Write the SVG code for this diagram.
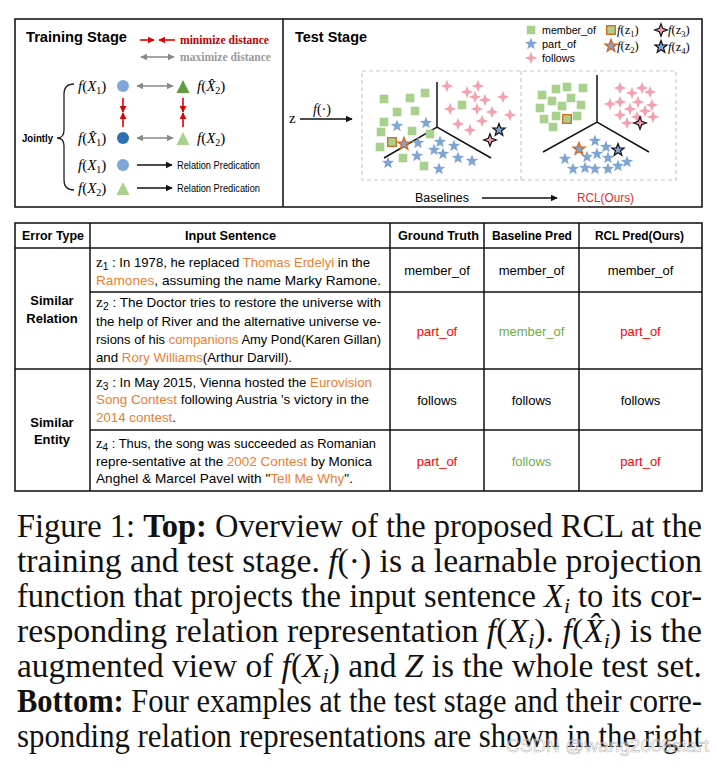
<svg xmlns="http://www.w3.org/2000/svg" width="717" height="771" viewBox="0 0 717 771">
<style>
.sans{font-family:"Liberation Sans","Noto Sans",Arial,sans-serif}
.serif{font-family:"Liberation Serif","DejaVu Serif","Times New Roman",serif}
.b{font-weight:bold}
.i{font-style:italic}
.org{fill:#ed7d31}
.red{fill:#ff0000}
.grn{fill:#70ad47}
.sq{fill:#a9d18e}
.st{fill:#7fa5d5}
.pk{fill:#f5a0ae}
.oe{stroke:#d4661c;stroke-width:1.3}
.ke{stroke:#111;stroke-width:1.2}
.frame{fill:none;stroke:#1a1a1a;stroke-width:1.6}
.grid{stroke:#111;stroke-width:1.5}
.body{font-size:13px}
.cap{font-family:"Liberation Serif","Times New Roman",serif;font-size:33px;fill:#111}
.cell{font-size:13px;text-anchor:middle}
</style>
<defs>
<rect id="sqr" x="-4.3" y="-4.3" width="8.6" height="8.6"/>
<path id="star" d="M0,-6.5 L1.59,-2.18 L6.18,-2.01 L2.57,0.83 L3.82,5.26 L0,2.7 L-3.82,5.26 L-2.57,0.83 L-6.18,-2.01 L-1.59,-2.18 Z"/>
<path id="spark" d="M0,-6.3 L1.7,-1.7 L6.3,0 L1.7,1.7 L0,6.3 L-1.7,1.7 L-6.3,0 L-1.7,-1.7 Z"/>
<marker id="ab" viewBox="0 0 10 10" refX="9" refY="5" markerWidth="7" markerHeight="7" markerUnits="userSpaceOnUse" orient="auto"><path d="M0,0 L10,5 L0,10 z" fill="#111"/></marker>
<marker id="ag" viewBox="0 0 10 10" refX="9" refY="5" markerWidth="7" markerHeight="7" markerUnits="userSpaceOnUse" orient="auto-start-reverse"><path d="M0,0 L10,5 L0,10 z" fill="#888"/></marker>
<marker id="ar" viewBox="0 0 10 10" refX="9" refY="5" markerWidth="7" markerHeight="7" markerUnits="userSpaceOnUse" orient="auto"><path d="M0,0 L10,5 L0,10 z" fill="#e00000"/></marker>
</defs>
<rect width="717" height="771" fill="#fff"/>

<!-- top frame -->
<rect class="frame" x="15" y="19" width="687" height="188"/>
<line class="frame" x1="283" y1="19" x2="283" y2="207"/>

<g id="training-stage">
<text class="sans b" x="26" y="42" font-size="15" textLength="101" lengthAdjust="spacingAndGlyphs">Training Stage</text>
<text class="serif b" x="180" y="44" font-size="11.5" fill="#c00000" textLength="89" lengthAdjust="spacingAndGlyphs">minimize distance</text>
<text class="serif b" x="180" y="61" font-size="11.5" fill="#9a9a9a" textLength="91" lengthAdjust="spacingAndGlyphs">maximize distance</text>
<g id="n-fx1"><circle cx="123" cy="86" r="6" fill="#7ea6d8"/><text class="serif" x="78" y="91" font-size="15"><tspan class="i">f</tspan>(<tspan class="i">X</tspan><tspan font-size="10" dy="3">1</tspan><tspan dy="-3">)</tspan></text></g>
<g id="n-fxh2"><polygon points="183,80 189.5,93 176.5,93" fill="#5e9e41"/><text class="serif" x="197" y="91" font-size="15"><tspan class="i">f</tspan>(<tspan class="i">X&#x302;</tspan><tspan font-size="10" dy="3">2</tspan><tspan dy="-3">)</tspan></text></g>
<g id="n-fxh1"><circle cx="123" cy="138" r="6" fill="#2e6fb0"/><text class="serif" x="78" y="143" font-size="15"><tspan class="i">f</tspan>(<tspan class="i">X&#x302;</tspan><tspan font-size="10" dy="3">1</tspan><tspan dy="-3">)</tspan></text></g>
<g id="n-fx2"><polygon points="183,132 189.5,145 176.5,145" fill="#a9d18e"/><text class="serif" x="197" y="143" font-size="15"><tspan class="i">f</tspan>(<tspan class="i">X</tspan><tspan font-size="10" dy="3">2</tspan><tspan dy="-3">)</tspan></text></g>
<g id="n-fx1b"><circle cx="123" cy="165" r="6" fill="#7ea6d8"/><text class="serif" x="78" y="170" font-size="15"><tspan class="i">f</tspan>(<tspan class="i">X</tspan><tspan font-size="10" dy="3">1</tspan><tspan dy="-3">)</tspan></text></g>
<g id="n-fx2b"><polygon points="123,182 129.5,195 116.5,195" fill="#a9d18e"/><text class="serif" x="78" y="193" font-size="15"><tspan class="i">f</tspan>(<tspan class="i">X</tspan><tspan font-size="10" dy="3">2</tspan><tspan dy="-3">)</tspan></text></g>
<g id="n-rp1"><text class="sans" x="177" y="168.5" font-size="10" textLength="83" lengthAdjust="spacingAndGlyphs">Relation Predication</text></g>
<g id="n-rp2"><text class="sans" x="177" y="191.5" font-size="10" textLength="83" lengthAdjust="spacingAndGlyphs">Relation Predication</text></g>
<g id="n-jointly"><text class="sans b" x="22" y="141.5" font-size="10.5" textLength="31" lengthAdjust="spacingAndGlyphs">Jointly</text>
<path d="M74,84 Q64,84 64,94 L64,130 Q64,138 57,138 Q64,138 64,146 L64,180 Q64,190 74,190" fill="none" stroke="#222" stroke-width="1.3"/></g>
</g>

<g id="training-connectors" stroke-width="1.6" fill="none">
<line x1="140" y1="40" x2="154" y2="40" stroke="#e00000" marker-end="url(#ar)"/>
<line x1="175" y1="40" x2="159" y2="40" stroke="#e00000" marker-end="url(#ar)"/>
<line x1="141" y1="57" x2="174" y2="57" stroke="#888" marker-start="url(#ag)" marker-end="url(#ag)"/>
<line x1="137" y1="86" x2="173" y2="86" stroke="#888" marker-start="url(#ag)" marker-end="url(#ag)"/>
<line x1="137" y1="138" x2="173" y2="138" stroke="#888" marker-start="url(#ag)" marker-end="url(#ag)"/>
<line x1="123" y1="98" x2="123" y2="112" stroke="#e00000" marker-end="url(#ar)"/>
<line x1="123" y1="127" x2="123" y2="113" stroke="#e00000" marker-end="url(#ar)"/>
<line x1="183" y1="98" x2="183" y2="112" stroke="#e00000" marker-end="url(#ar)"/>
<line x1="183" y1="127" x2="183" y2="113" stroke="#e00000" marker-end="url(#ar)"/>
<line x1="137" y1="165" x2="172" y2="165" stroke="#111" marker-end="url(#ab)"/>
<line x1="137" y1="188" x2="172" y2="188" stroke="#111" marker-end="url(#ab)"/>
</g>

<g id="test-stage">
<text class="sans b" x="295" y="42" font-size="15" textLength="72" lengthAdjust="spacingAndGlyphs">Test Stage</text>
<g id="legend">
<use href="#sqr" x="531" y="30" class="sq"/>
<use href="#star" x="531" y="44" class="st"/>
<use href="#spark" x="531" y="58" class="pk"/>
<text class="sans" x="542" y="34" font-size="11" textLength="54" lengthAdjust="spacingAndGlyphs">member_of</text>
<text class="sans" x="542" y="48" font-size="11" textLength="34" lengthAdjust="spacingAndGlyphs">part_of</text>
<text class="sans" x="542" y="62" font-size="11" textLength="33" lengthAdjust="spacingAndGlyphs">follows</text>
<use href="#sqr" x="611" y="30" class="sq oe"/>
<use href="#star" x="611" y="46" class="st oe"/>
<use href="#spark" x="661" y="30" class="pk ke"/>
<use href="#star" x="661" y="47" class="st ke"/>
<text class="serif" x="617" y="34" font-size="12.5"><tspan class="i">f</tspan>(z<tspan font-size="8.5" dy="2.5">1</tspan><tspan dy="-2.5">)</tspan></text>
<text class="serif" x="617" y="50" font-size="12.5"><tspan class="i">f</tspan>(z<tspan font-size="8.5" dy="2.5">2</tspan><tspan dy="-2.5">)</tspan></text>
<text class="serif" x="668" y="34" font-size="12.5"><tspan class="i">f</tspan>(z<tspan font-size="8.5" dy="2.5">3</tspan><tspan dy="-2.5">)</tspan></text>
<text class="serif" x="668" y="51" font-size="12.5"><tspan class="i">f</tspan>(z<tspan font-size="8.5" dy="2.5">4</tspan><tspan dy="-2.5">)</tspan></text>
</g>
<rect x="362" y="71" width="314" height="109" fill="none" stroke="#c8c8c8" stroke-width="1.2" stroke-dasharray="4,3"/>
<line x1="521" y1="71" x2="521" y2="180" stroke="#c8c8c8" stroke-width="1.2" stroke-dasharray="4,3"/>
<text class="serif" x="289" y="123" font-size="15">z</text>
<text class="serif" x="313" y="114" font-size="14"><tspan class="i">f</tspan>(·)</text>
<g id="panel-baseline">
<path d="M437,82 L437,127 M384,158 L437,127 L491,158" fill="none" stroke="#111" stroke-width="1.5"/>
<g class="sq">
<use href="#sqr" x="384" y="99"/><use href="#sqr" x="410" y="98"/><use href="#sqr" x="425" y="93"/><use href="#sqr" x="397" y="112"/><use href="#sqr" x="415" y="111"/><use href="#sqr" x="384" y="122"/><use href="#sqr" x="381" y="132"/><use href="#sqr" x="412" y="131"/><use href="#sqr" x="380" y="147"/><use href="#sqr" x="403" y="158"/><use href="#sqr" x="424" y="166"/><use href="#sqr" x="462" y="105"/><use href="#sqr" x="430" y="134"/>
</g>
<g class="st">
<use href="#star" x="397" y="126"/><use href="#star" x="426" y="123"/><use href="#star" x="418" y="143"/><use href="#star" x="440" y="142"/><use href="#star" x="434" y="150"/><use href="#star" x="454" y="146"/><use href="#star" x="443" y="154"/><use href="#star" x="417" y="156"/><use href="#star" x="458" y="158"/><use href="#star" x="472" y="161"/><use href="#star" x="388" y="163"/><use href="#star" x="439" y="169"/>
</g>
<g class="pk">
<use href="#spark" x="447" y="86"/><use href="#spark" x="467" y="92"/><use href="#spark" x="478" y="86"/><use href="#spark" x="475" y="97"/><use href="#spark" x="485" y="100"/><use href="#spark" x="503" y="97"/><use href="#spark" x="450" y="109"/><use href="#spark" x="477" y="109"/><use href="#spark" x="492" y="112"/><use href="#spark" x="510" y="115"/><use href="#spark" x="482" y="121"/><use href="#spark" x="458" y="124"/><use href="#spark" x="470" y="130"/>
</g>
<use href="#sqr" x="392" y="142" class="sq oe"/>
<use href="#star" x="404" y="144" class="st oe"/>
<use href="#spark" x="490" y="140" class="pk ke"/>
<use href="#star" x="499" y="130" class="st ke"/>
</g>
<g id="panel-rcl">
<path d="M597,75 L597,122 M543,152 L597,122 L649,152" fill="none" stroke="#111" stroke-width="1.5"/>
<g class="sq">
<use href="#sqr" x="542" y="95"/><use href="#sqr" x="556" y="89"/><use href="#sqr" x="567" y="87"/><use href="#sqr" x="583" y="88"/><use href="#sqr" x="552" y="101"/><use href="#sqr" x="571" y="98"/><use href="#sqr" x="540" y="108"/><use href="#sqr" x="562" y="106"/><use href="#sqr" x="581" y="105"/><use href="#sqr" x="544" y="119"/><use href="#sqr" x="556" y="116"/><use href="#sqr" x="577" y="116"/><use href="#sqr" x="553" y="127"/>
</g>
<g class="pk">
<use href="#spark" x="620" y="88"/><use href="#spark" x="632" y="93"/><use href="#spark" x="642" y="88"/><use href="#spark" x="650" y="92"/><use href="#spark" x="610" y="104"/><use href="#spark" x="620" y="102"/><use href="#spark" x="638" y="102"/><use href="#spark" x="652" y="105"/><use href="#spark" x="630" y="109"/><use href="#spark" x="645" y="111"/><use href="#spark" x="620" y="115"/><use href="#spark" x="637" y="117"/><use href="#spark" x="653" y="117"/><use href="#spark" x="627" y="123"/>
</g>
<g class="st">
<use href="#star" x="595" y="141"/><use href="#star" x="606" y="147"/><use href="#star" x="587" y="157"/><use href="#star" x="597" y="154"/><use href="#star" x="608" y="158"/><use href="#star" x="565" y="159"/><use href="#star" x="573" y="169"/><use href="#star" x="585" y="168"/><use href="#star" x="595" y="169"/><use href="#star" x="608" y="169"/><use href="#star" x="618" y="166"/><use href="#star" x="627" y="162"/>
</g>
<use href="#sqr" x="567" y="119" class="sq oe"/>
<use href="#spark" x="640" y="123" class="pk ke"/>
<use href="#star" x="579" y="149" class="st oe"/>
<use href="#star" x="618" y="150" class="st ke"/>
</g>
<text class="sans" x="415" y="202" font-size="12.5" textLength="54" lengthAdjust="spacingAndGlyphs">Baselines</text>
<text class="sans" x="577" y="202" font-size="12.5" fill="#e02a1e" textLength="57" lengthAdjust="spacingAndGlyphs">RCL(Ours)</text>
</g>

<g id="test-connectors" fill="none" stroke="#111" stroke-width="1.4">
<line x1="300" y1="119" x2="352" y2="119" marker-end="url(#ab)"/>
<line x1="482" y1="198" x2="557" y2="198" marker-end="url(#ab)"/>
</g>

<g id="table">
<rect class="frame" x="15" y="223" width="687" height="268"/>
<g class="grid">
<line x1="15" y1="248" x2="702" y2="248"/>
<line x1="15" y1="369" x2="702" y2="369"/>
<line x1="90" y1="292" x2="702" y2="292"/>
<line x1="90" y1="430" x2="702" y2="430"/>
<line x1="90" y1="223" x2="90" y2="491"/>
<line x1="390" y1="223" x2="390" y2="491"/>
<line x1="484" y1="223" x2="484" y2="491"/>
<line x1="579" y1="223" x2="579" y2="491"/>
</g>
<g id="header" class="sans b" font-size="12.5">
<text x="22" y="240" textLength="62" lengthAdjust="spacingAndGlyphs">Error Type</text>
<text x="185" y="240" textLength="91" lengthAdjust="spacingAndGlyphs">Input Sentence</text>
<text x="398" y="240" textLength="81" lengthAdjust="spacingAndGlyphs">Ground Truth</text>
<text x="492" y="240" textLength="80" lengthAdjust="spacingAndGlyphs">Baseline Pred</text>
<text x="595" y="240" textLength="89" lengthAdjust="spacingAndGlyphs">RCL Pred(Ours)</text>
</g>
<g id="error-types" class="sans b" font-size="13" text-anchor="middle">
<text x="52" y="305">Similar</text>
<text x="52" y="323">Relation</text>
<text x="52" y="427">Similar</text>
<text x="52" y="444">Entity</text>
</g>
<g id="sentences" class="sans body">
<text x="96" y="267" textLength="274" lengthAdjust="spacingAndGlyphs"><tspan class="serif" font-size="15">z</tspan><tspan font-size="10" dy="3">1</tspan><tspan dy="-3"> : In 1978, he replaced </tspan><tspan class="org">Thomas Erdelyi</tspan> in the</text>
<text x="96" y="285" textLength="285" lengthAdjust="spacingAndGlyphs"><tspan class="org">Ramones</tspan>, assuming the name Marky Ramone.</text>
<text x="96" y="307" textLength="285" lengthAdjust="spacingAndGlyphs"><tspan class="serif" font-size="15">z</tspan><tspan font-size="10" dy="3">2</tspan><tspan dy="-3"> : The Doctor tries to restore the universe with</tspan></text>
<text x="96" y="326" textLength="285" lengthAdjust="spacingAndGlyphs">the help of River and the alternative universe ve-</text>
<text x="96" y="344" textLength="285" lengthAdjust="spacingAndGlyphs">rsions of his <tspan class="org">companions</tspan> Amy Pond(Karen Gillan)</text>
<text x="96" y="362" textLength="196" lengthAdjust="spacingAndGlyphs">and <tspan class="org">Rory Williams</tspan>(Arthur Darvill).</text>
<text x="96" y="387" textLength="276" lengthAdjust="spacingAndGlyphs"><tspan class="serif" font-size="15">z</tspan><tspan font-size="10" dy="3">3</tspan><tspan dy="-3"> : In May 2015, Vienna hosted the </tspan><tspan class="org">Eurovision</tspan></text>
<text x="96" y="404" textLength="273" lengthAdjust="spacingAndGlyphs"><tspan class="org">Song Contest</tspan> following Austria 's victory in the</text>
<text x="96" y="422" textLength="80" lengthAdjust="spacingAndGlyphs"><tspan class="org">2014 contest</tspan>.</text>
<text x="96" y="448" textLength="280" lengthAdjust="spacingAndGlyphs"><tspan class="serif" font-size="15">z</tspan><tspan font-size="10" dy="3">4</tspan><tspan dy="-3"> : Thus, the song was succeeded as Romanian</tspan></text>
<text x="96" y="466" textLength="276" lengthAdjust="spacingAndGlyphs">repre-sentative at the <tspan class="org">2002 Contest</tspan> by Monica</text>
<text x="96" y="483" textLength="257" lengthAdjust="spacingAndGlyphs">Anghel &amp; Marcel Pavel with "<tspan class="org">Tell Me Why</tspan>".</text>
</g>
<g id="preds" class="sans cell">
<text x="437" y="275">member_of</text><text x="531.5" y="275">member_of</text><text x="640.5" y="275">member_of</text>
<text x="437" y="336" class="red">part_of</text><text x="531.5" y="336" class="grn">member_of</text><text x="640.5" y="336" class="red">part_of</text>
<text x="437" y="405">follows</text><text x="531.5" y="405">follows</text><text x="640.5" y="405">follows</text>
<text x="437" y="466" class="red">part_of</text><text x="531.5" y="466" class="grn">follows</text><text x="640.5" y="466" class="red">part_of</text>
</g>
</g>

<g id="caption">
<text class="cap" x="17" y="537" textLength="685" lengthAdjust="spacingAndGlyphs">Figure 1: <tspan font-weight="bold">Top:</tspan> Overview of the proposed RCL at the</text>
<text class="cap" x="17" y="572" textLength="685" lengthAdjust="spacingAndGlyphs">training and test stage.  <tspan class="i">f</tspan>(·) is a learnable projection</text>
<text class="cap" x="17" y="607" textLength="685" lengthAdjust="spacingAndGlyphs">function that projects the input sentence <tspan class="i">X</tspan><tspan class="i" font-size="22" dy="6">i</tspan><tspan dy="-6"> to its cor-</tspan></text>
<text class="cap" x="17" y="642" textLength="685" lengthAdjust="spacingAndGlyphs">responding relation representation <tspan class="i">f</tspan>(<tspan class="i">X</tspan><tspan class="i" font-size="22" dy="6">i</tspan><tspan dy="-6">). </tspan><tspan class="i">f</tspan>(<tspan class="i">X&#x302;</tspan><tspan class="i" font-size="22" dy="6">i</tspan><tspan dy="-6">) is the</tspan></text>
<text class="cap" x="17" y="677" textLength="685" lengthAdjust="spacingAndGlyphs">augmented view of <tspan class="i">f</tspan>(<tspan class="i">X</tspan><tspan class="i" font-size="22" dy="6">i</tspan><tspan dy="-6">) and </tspan><tspan class="i">Z</tspan> is the whole test set.</text>
<text class="cap" x="17" y="712" textLength="685" lengthAdjust="spacingAndGlyphs"><tspan font-weight="bold">Bottom:</tspan> Four examples at the test stage and their corre-</text>
<text class="cap" x="17" y="747" textLength="685" lengthAdjust="spacingAndGlyphs">sponding relation representations are shown in the right</text>
<text class="sans" x="506" y="752" font-size="19" fill="#fff" fill-opacity="0.5" stroke="#999" stroke-width="0.6" stroke-opacity="0.7">CSDN @wang2008start</text>
</g>
</svg>
